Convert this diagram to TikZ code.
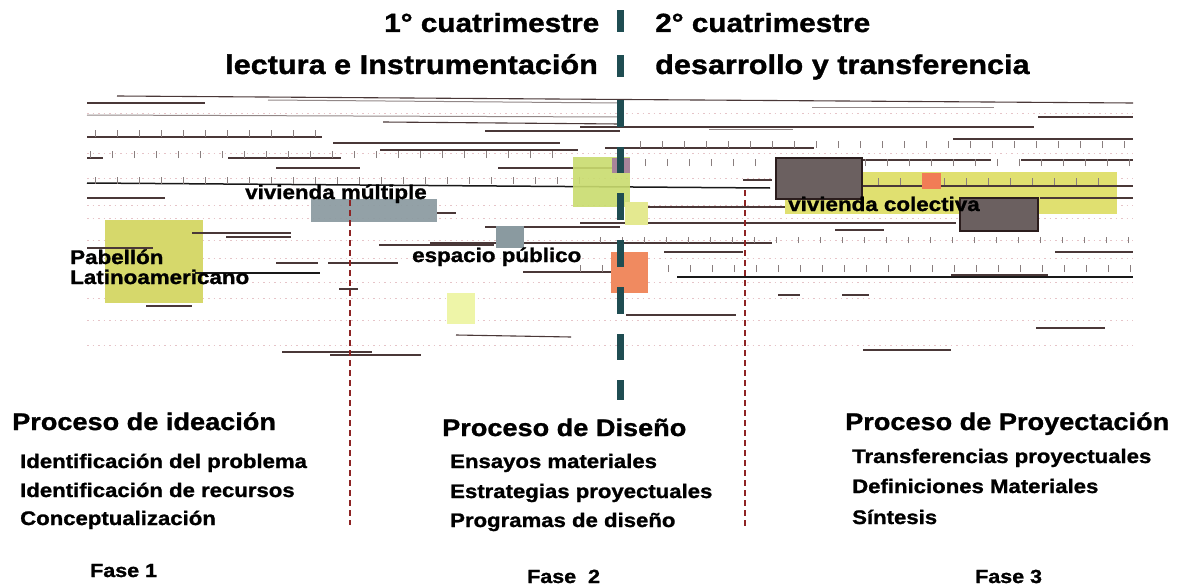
\documentclass[tikz,border=0pt]{standalone}
\usepackage{fontspec}
\setmainfont{Liberation Sans}[FakeStretch=1.13,FakeBold=1.2]
\begin{document}
\begin{tikzpicture}[x=1pt,y=-1pt,
  ln/.style={draw=lncol,line width=1.1pt},
  lnl/.style={draw=lncol!60,line width=1pt},
  lnb/.style={draw=black!90,line width=1.5pt},
  tk/.style={draw=lncol!65,line width=0.7pt},
  dots/.style={draw=pinkish,line width=0.8pt,dash pattern=on 1.5pt off 4pt},
  rdash/.style={draw=reddash,line width=1.4pt,dash pattern=on 6pt off 4pt},
  seg/.style={fill=barcol,draw=none},
  darkbox/.style={fill=boxbrown,draw=boxedge,line width=2pt},
  t/.style={inner sep=0pt,anchor=base west,font=\bfseries},
  ttl/.style={t,font=\bfseries\fontsize{26.3}{30}\selectfont},
  ttlb/.style={t,font=\bfseries\fontsize{27.1}{30}\selectfont},
  hd/.style={t,font=\bfseries\fontsize{24}{28}\selectfont},
  sb/.style={t,font=\bfseries\fontsize{19.6}{24}\selectfont},
  fs/.style={t,font=\bfseries\fontsize{19}{23}\selectfont},
  lb/.style={t,font=\bfseries\fontsize{19.8}{22}\selectfont}]
\definecolor{lncol}{HTML}{4A3838}
\definecolor{pinkish}{HTML}{E6C4C8}
\definecolor{reddash}{HTML}{8E2424}
\definecolor{barcol}{HTML}{1F4D52}
\definecolor{boxbrown}{HTML}{6B6060}
\definecolor{boxedge}{HTML}{2B1D1D}
\definecolor{ygreen}{HTML}{D6D86B}
\definecolor{lgreen}{HTML}{C9DC6E}
\definecolor{yband}{HTML}{E0E070}
\definecolor{pyellow}{HTML}{EEF5A8}
\definecolor{grayblue}{HTML}{8A9AA0}
\definecolor{orng}{HTML}{F08A60}
\definecolor{purp}{HTML}{A8849A}
\useasboundingbox (0,0) rectangle (1177,586);
\fill[white] (0,0) rectangle (1177,586);

% faint dotted texture rows
\foreach \y in {113,153,178,205,218,240,258,282,298,320,345}
  \draw[dots] (87,\y) -- (1133,\y);

% colored areas (under lines)
\fill[ygreen] (105,220) rectangle (203,303);
\fill[pyellow] (447,293) rectangle (475,324);
\fill[yband] (785,172) rectangle (1117,214);

% horizontal lines, left half
\draw[ln] (117,96) -- (1133,103);
\foreach \a/\b/\c/\d in {87/103/205/103, 383/122/620/124, 485/131/620/131,
  87/137/322/137, 333/143/560/143, 380/150/578/150, 87/158/103/158,
  228/158/341/158, 276/168/360/168, 498/168/620/168, 87/198/165/198,
  437/213/456/213, 485/227/620/227, 192/233/291/233, 226/237/291/237,
  379/245/494/245, 430/243/620/243, 87/248/153/248, 276/263/318/263,
  328/263/398/263, 523/272/620/272, 339/289/358/289, 146/306/192/306,
  456/335/571/337, 282/352/372/352, 330/355/421/355}
  \draw[ln] (\a,\b) -- (\c,\d);
\foreach \a/\b/\c/\d in {268/100/620/103, 87/115/620/117}
  \draw[lnl] (\a,\b) -- (\c,\d);
% right half
\foreach \a/\b/\c/\d in {1038/117/1133/117, 580/127/1034/127, 953/139/1133/139,
  605/148/814/148, 863/160/991/160, 1021/160/1133/160, 743/180/772/180,
  1040/198/1133/198, 648/207/785/207, 580/223/956/223, 835/230/884/230,
  580/243/772/243, 664/252/743/252, 1055/252/1133/252, 580/272/605/272,
  951/275/1048/275, 778/295/800/295, 842/295/869/295, 626/315/736/315,
  1036/328/1105/328, 863/350/951/350, 863/186/1133/186}
  \draw[ln] (\a,\b) -- (\c,\d);
\foreach \a/\b/\c/\d in {812/107/994/107, 709/129/793/129}
  \draw[lnl] (\a,\b) -- (\c,\d);
% black main lines
\draw[lnb] (87,183) -- (770,188);
\draw[lnb] (195,273) -- (320,273);
\draw[lnb] (677,277) -- (1133,277);

% tick marks
\foreach \x in {95,117,...,320} \draw[tk] (\x,137) -- ++(0,-7);
\foreach \x in {90,112,...,560} \draw[tk] (\x,158) -- ++(0,-7);
\foreach \x in {95,117,...,600} \draw[tk] (\x,184) -- ++(0,-7);
\foreach \x in {640,662,...,1133} \draw[tk] (\x,148) -- ++(0,-7);
\foreach \x in {645,667,...,1133} \draw[tk] (\x,166) -- ++(0,-7);
\foreach \x in {790,812,...,1115} \draw[tk] (\x,185) -- ++(0,-7);
\foreach \x in {600,622,...,1133} \draw[tk] (\x,243) -- ++(0,-6);
\foreach \x in {580,602,...,1133} \draw[tk] (\x,272) -- ++(0,-7);

% colored boxes (over lines)
\fill[grayblue,opacity=0.92] (311,199) rectangle (437,222);
\fill[grayblue] (496,226) rectangle (524,248);
\fill[lgreen,opacity=0.9] (573,157) rectangle (630,207);
\fill[pyellow!60!ygreen] (625,202) rectangle (648,225);
\fill[purp] (612,158) rectangle (630,173);
\fill[orng] (611,252) rectangle (648,293);
\fill[orng!90!red] (922,173) rectangle (941,189);
\draw[darkbox] (776,158) rectangle (862,199);
\draw[darkbox] (960,198) rectangle (1038,231);

% red dashed separators
\draw[rdash] (350,200) -- (350,525);
\draw[rdash] (745,190) -- (745,527);

% central dashed bar
\foreach \a/\b in {10/32, 55/77, 100/127, 147/173, 193/220, 240/267, 287/314, 334/360, 380/400}
  \fill[seg] (617,\a) rectangle (624,\b);

% titles
\node[ttl] (c1) at (384,32) {1° cuatrimestre};
\node[ttlb] (c1b) at (225,74) {lectura e Instrumentación};
\node[ttl] (c2) at (655,32) {2° cuatrimestre};
\node[ttlb] (c2b) at (655,74) {desarrollo y transferencia};

% map labels
\node[lb] (vm) at (245,199) {vivienda múltiple};
\node[lb] (pab) at (70,264) {Pabellón};
\node[lb] (lat) at (70,284) {Latinoamericano};
\node[lb] (ep) at (412,262) {espacio público};
\node[lb] (vc) at (788,211) {vivienda colectiva};

% phase 1
\node[hd] (p1) at (12,430) {Proceso de ideación};
\node[sb] (p1a) at (20,468) {Identificación del problema};
\node[sb] (p1b) at (20,497) {Identificación de recursos};
\node[sb] (p1c) at (20,525) {Conceptualización};
\node[fs] (f1) at (90,577) {Fase 1};
% phase 2
\node[hd] (p2) at (442,436) {Proceso de Diseño};
\node[sb] (p2a) at (450,468) {Ensayos materiales};
\node[sb] (p2b) at (450,498) {Estrategias proyectuales};
\node[sb] (p2c) at (450,527) {Programas de diseño};
\node[fs] (f2) at (527,583) {Fase\ \ 2};
% phase 3
\node[hd] (p3) at (845,430) {Proceso de Proyectación};
\node[sb] (p3a) at (852,463) {Transferencias proyectuales};
\node[sb] (p3b) at (852,493) {Definiciones Materiales};
\node[sb] (p3c) at (852,524) {Síntesis};
\node[fs] (f3) at (975,583) {Fase 3};
\end{tikzpicture}
\end{document}
